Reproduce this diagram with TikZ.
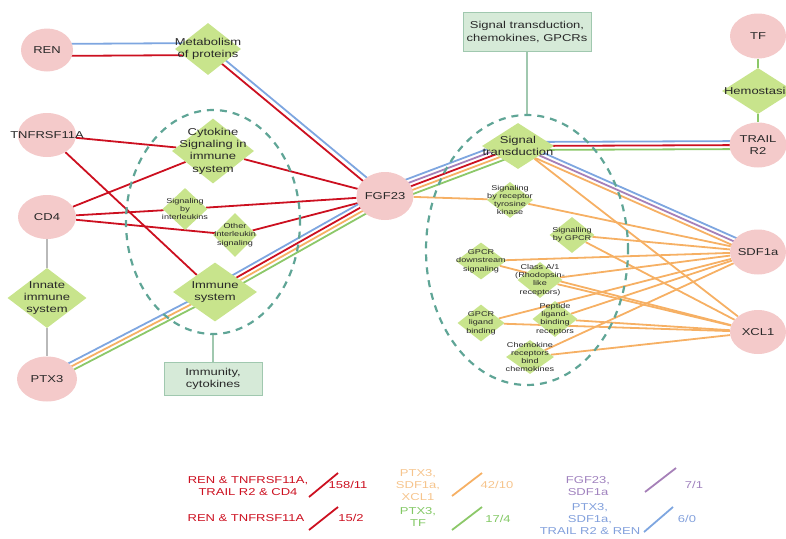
\documentclass[tikz,border=0pt]{standalone}
\usepackage{fontspec}
\setmainfont{Liberation Sans}[FakeStretch=1.3]
\usetikzlibrary{shapes.geometric,calc,backgrounds}

\definecolor{pinkfill}{RGB}{244,202,202}
\definecolor{greenfill}{RGB}{200,228,140}
\definecolor{boxfill}{RGB}{214,234,216}
\definecolor{boxdraw}{RGB}{160,200,175}
\definecolor{dteal}{RGB}{95,165,150}
\definecolor{cred}{RGB}{204,16,32}
\definecolor{cblue}{RGB}{126,166,224}
\definecolor{corange}{RGB}{246,176,100}
\definecolor{cgreen}{RGB}{140,200,105}
\definecolor{cpurple}{RGB}{166,128,184}
\definecolor{cgray}{RGB}{185,185,185}
\definecolor{txt}{RGB}{40,40,40}
\definecolor{lorange}{RGB}{246,196,140}
\definecolor{lgreen}{RGB}{130,200,100}
\definecolor{lpurple}{RGB}{160,130,190}
\definecolor{lblue}{RGB}{130,160,220}

\tikzset{
  ell/.style={ellipse, fill=pinkfill, inner sep=0pt},
  dia/.style={diamond, fill=greenfill, inner sep=0pt},
  lab/.style={text=txt, font=\fontsize{10}{12.3}\selectfont, align=center, inner sep=0pt},
  slab/.style={text=txt, font=\fontsize{7}{8.3}\selectfont, align=center, inner sep=0pt},
  leg/.style={font=\fontsize{10}{12.5}\selectfont, align=center, inner sep=0pt},
  bx/.style={fill=boxfill, draw=boxdraw, line width=1pt, inner sep=0pt},
  ln/.style={line width=1.8pt},
  grp/.style={ellipse, draw=dteal, line width=2.2pt, dash pattern=on 7pt off 6pt, inner sep=0pt},
  conn/.style={draw=boxdraw, line width=1.2pt},
}

\newcommand\ellnode[5]{\node[ell, minimum width=#4, minimum height=#5] (#1) at #2 {}; \node[lab] (#1-t) at (#1) {#3};}
\newcommand\dianode[5]{\node[dia, minimum width=#4, minimum height=#5] (#1) at #2 {}; \node[lab] (#1-t) at (#1) {#3};}
\newcommand\sdianode[5]{\node[dia, minimum width=#4, minimum height=#5] (#1) at #2 {}; \node[slab] (#1-t) at (#1) {#3};}
\newcommand\pl[4]{\draw[ln,#4] ($(#1)!#3!90:(#2)$) -- ($(#2)!#3!-90:(#1)$);}

\begin{document}
\begin{tikzpicture}[x=1pt,y=-1pt]
\useasboundingbox (0,0) rectangle (786,538);
\clip (0,0) rectangle (786,538);

% group ellipses
\node[grp, minimum width=174pt, minimum height=224pt] (lgrp) at (213,222) {};
\node[grp, minimum width=202pt, minimum height=270pt] (rgrp) at (527,250) {};

% protein nodes
\ellnode{ren}{(47,50)}{REN}{52pt}{43pt}
\ellnode{tnf}{(47,135)}{TNFRSF11A}{58pt}{44pt}
\ellnode{cd4}{(47,217)}{CD4}{58pt}{44pt}
\ellnode{ptx}{(47,379)}{PTX3}{60pt}{45pt}
\ellnode{fgf}{(385,196)}{FGF23}{57pt}{48pt}
\ellnode{tf}{(758,36)}{TF}{56pt}{45pt}
\ellnode{trail}{(758,145)}{TRAIL\\R2}{57pt}{45pt}
\ellnode{sdf}{(758,252)}{SDF1a}{56pt}{45pt}
\ellnode{xcl}{(758,332)}{XCL1}{56pt}{44pt}

% pathway nodes
\dianode{met}{(208,49)}{Metabolism\\of proteins}{66pt}{52pt}
\dianode{cyt}{(213,151)}{Cytokine\\Signaling in\\immune\\system}{82pt}{65pt}
\sdianode{sil}{(185,209)}{Signaling\\by\\interleukins}{45pt}{42pt}
\sdianode{oil}{(235,235)}{Other\\Interleukin\\signaling}{44pt}{44pt}
\dianode{imm}{(215,292)}{Immune\\system}{84pt}{59pt}
\dianode{inn}{(47,298)}{Innate\\immune\\system}{79pt}{60pt}
\dianode{hem}{(758,91)}{Hemostasis}{72pt}{46pt}
\dianode{st}{(518,146)}{Signal\\transduction}{72pt}{46pt}
\sdianode{rtk}{(510,200)}{Signaling\\by receptor\\tyrosine\\kinase}{46pt}{36pt}
\sdianode{sbg}{(572,235)}{Signalling\\by GPCR}{45pt}{36pt}
\sdianode{gds}{(481,261)}{GPCR\\downstream\\signaling}{50pt}{37pt}
\sdianode{cla}{(540,280)}{Class A/1\\(Rhodopsin-\\like\\receptors)}{45pt}{36pt}
\sdianode{glb}{(481,323)}{GPCR\\ligand\\binding}{47pt}{37pt}
\sdianode{pep}{(555,319)}{Peptide\\ligand-\\binding\\receptors}{45pt}{36pt}
\sdianode{che}{(530,357)}{Chemokine\\receptors\\bind\\chemokines}{48pt}{34pt}

% group boxes
\node[bx, minimum width=98pt, minimum height=33pt] (immbox) at (213,379) {};
\node[lab] (immbox-t) at (immbox) {Immunity,\\cytokines};
\node[bx, minimum width=128pt, minimum height=39pt] (stbox) at (527,32) {};
\node[lab, font=\fontsize{10}{13}\selectfont] (stbox-t) at (stbox) {Signal transduction,\\chemokines, GPCRs};

\begin{scope}[on background layer]
  % gray / green simple links
  \draw[line width=2.2pt, cgray] (cd4) -- (inn) -- (ptx);
  \draw[line width=2pt, cgreen] (tf) -- (hem) -- (trail);
  % REN - Metabolism - FGF23
  \pl{ren}{met}{6pt}{cblue}
  \pl{ren}{met}{-6pt}{cred}
  \pl{met}{fgf}{2.5pt}{cblue}
  \pl{met}{fgf}{-2.5pt}{cred}
  % red links
  \draw[ln,cred] (tnf) -- (cyt);
  \draw[ln,cred] (tnf) -- (imm);
  \draw[ln,cred] (cd4) -- (cyt);
  \draw[ln,cred] (cd4) -- (sil);
  \draw[ln,cred] (cd4) -- (oil);
  \draw[ln,cred] (cyt) -- (fgf);
  \draw[ln,cred] (sil) -- (fgf);
  \draw[ln,cred] (oil) -- (fgf);
  % PTX3 - Immune - FGF23
  \pl{ptx}{imm}{4pt}{cblue}
  \pl{ptx}{imm}{0pt}{corange}
  \pl{ptx}{imm}{-4pt}{cgreen}
  \pl{imm}{fgf}{6pt}{cblue}
  \pl{imm}{fgf}{2pt}{cred}
  \pl{imm}{fgf}{-2pt}{corange}
  \pl{imm}{fgf}{-6pt}{cgreen}
  % FGF23 - Signal transduction
  \pl{fgf}{st}{8pt}{cblue}
  \pl{fgf}{st}{4pt}{cpurple}
  \pl{fgf}{st}{0pt}{cred}
  \pl{fgf}{st}{-4pt}{corange}
  \pl{fgf}{st}{-8pt}{cgreen}
  % Signal transduction - TRAIL R2
  \pl{st}{trail}{4pt}{cblue}
  \pl{st}{trail}{0pt}{cred}
  \pl{st}{trail}{-4pt}{cgreen}
  % Signal transduction - SDF1a / XCL1
  \pl{st}{sdf}{4pt}{cblue}
  \pl{st}{sdf}{0pt}{cpurple}
  \pl{st}{sdf}{-4pt}{corange}
  \draw[ln,corange] (st) -- (xcl);
  % orange links
  \draw[ln,corange] (fgf) -- (rtk);
  \draw[ln,corange] (rtk) -- (sdf);
  \foreach \n in {sbg,gds,cla,glb,pep,che}{
    \draw[ln,corange] (\n) -- (sdf);
    \draw[ln,corange] (\n) -- (xcl);
  }
  % group connectors
  \draw[conn] (immbox.north) -- (lgrp.south);
  \draw[conn] (stbox.south) -- (rgrp.north);
\end{scope}

% legend
\node[leg, text=cred] (l1) at (248,486) {REN \& TNFRSF11A,\\TRAIL R2 \& CD4};
\coordinate (s1a) at (309,497); \coordinate (s1b) at (338,473);
\draw[ln,cred] (s1a) -- (s1b);
\node[leg, text=cred] (n1) at (348,485) {158/11};

\node[leg, text=cred] (l2) at (246,518) {REN \& TNFRSF11A};
\coordinate (s2a) at (309,530); \coordinate (s2b) at (338,507);
\draw[ln,cred] (s2a) -- (s2b);
\node[leg, text=cred] (n2) at (351,518) {15/2};

\node[leg, text=lorange, font=\fontsize{10}{12}\selectfont] (l3) at (418,485) {PTX3,\\SDF1a,\\XCL1};
\coordinate (s3a) at (452,496); \coordinate (s3b) at (482,473);
\draw[ln,corange] (s3a) -- (s3b);
\node[leg, text=lorange] (n3) at (497,485) {42/10};

\node[leg, text=lgreen, font=\fontsize{10}{11.5}\selectfont] (l4) at (418,517) {PTX3,\\TF};
\coordinate (s4a) at (452,530); \coordinate (s4b) at (482,507);
\draw[ln,cgreen] (s4a) -- (s4b);
\node[leg, text=lgreen] (n4) at (498,519) {17/4};

\node[leg, text=lpurple] (l5) at (588,486) {FGF23,\\SDF1a};
\coordinate (s5a) at (645,492); \coordinate (s5b) at (676,468);
\draw[ln,cpurple] (s5a) -- (s5b);
\node[leg, text=lpurple] (n5) at (694,485) {7/1};

\node[leg, text=lblue, font=\fontsize{10}{12}\selectfont] (l6) at (590,519) {PTX3,\\SDF1a,\\TRAIL R2 \& REN};
\coordinate (s6a) at (644,532); \coordinate (s6b) at (673,507);
\draw[ln,cblue] (s6a) -- (s6b);
\node[leg, text=lblue] (n6) at (687,519) {6/0};
\end{tikzpicture}
\end{document}
